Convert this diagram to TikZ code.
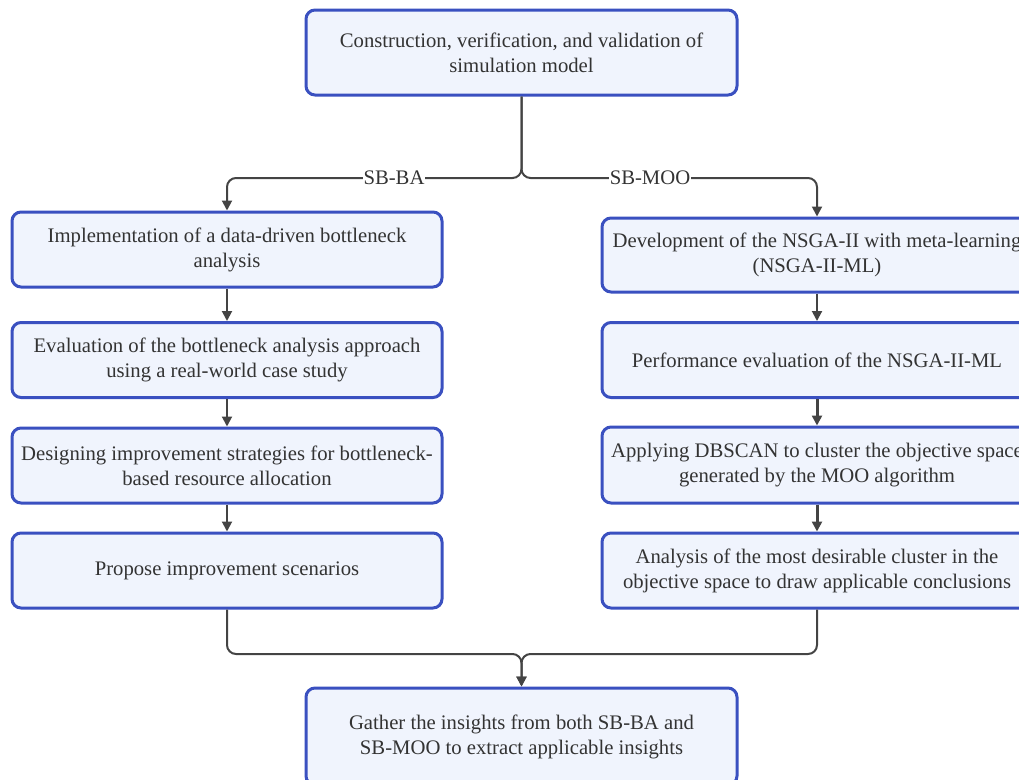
\documentclass[tikz,border=0pt]{standalone}
\usepackage{fontspec}
\setmainfont{Liberation Serif}
\usetikzlibrary{arrows.meta}
\definecolor{boxborder}{RGB}{58,80,192}
\definecolor{boxfill}{RGB}{240,244,253}
\definecolor{linegray}{RGB}{68,68,68}
\definecolor{textgray}{RGB}{51,51,51}
\begin{document}
\begin{tikzpicture}[x=1pt,y=1pt,
  box/.style={draw=boxborder, fill=boxfill, line width=3pt, rounded corners=9pt,
    minimum width=430pt, minimum height=75pt, align=center, inner sep=0pt,
    text=textgray, font=\fontsize{20.7}{25}\selectfont},
  conn/.style={draw=linegray, line width=2pt, rounded corners=9pt,
    -{Triangle[width=10pt,length=10pt]}},
  thickconn/.style={conn, line width=3pt},
  lbl/.style={fill=white, inner sep=1pt, text=textgray, font=\fontsize{20.7}{25}\selectfont}
]
\useasboundingbox (0,0) rectangle (1019,-779);

\node[box, minimum width=431pt, minimum height=85pt] (top) at (521.5,-52.5)
  {Construction, verification, and validation of\\simulation model};

\node[box] (L1) at (227,-249.5) {Implementation of a data-driven bottleneck\\analysis};
\node[box] (L2) at (227,-360) {Evaluation of the bottleneck analysis approach\\using a real-world case study};
\node[box] (L3) at (227,-465.5) {Designing improvement strategies for bottleneck-\\based resource allocation};
\node[box] (L4) at (227,-570.5) {Propose improvement scenarios};

\node[box, minimum height=74pt] (R1) at (817,-255) {Development of the NSGA-II with meta-learning\\(NSGA-II-ML)};
\node[box] (R2) at (817,-360) {Performance evaluation of the NSGA-II-ML};
\node[box, minimum height=76pt] (R3) at (817,-465) {Applying DBSCAN to cluster the objective space\\generated by the MOO algorithm};
\node[box] (R4) at (817,-570.5) {Analysis of the most desirable cluster in the\\objective space to draw applicable conclusions};

\node[box, minimum width=431pt, minimum height=97pt] (bot) at (521.5,-736.5)
  {Gather the insights from both SB-BA and\\SB-MOO to extract applicable insights};

\coordinate (split) at (521.5,-178);
\coordinate (merge) at (521.5,-654);

\draw[conn] (top.south) -- (split) -| (L1.north);
\draw[conn] (top.south) -- (split) -| (R1.north);

\node[lbl] (sbba) at (394,-178) {SB-BA};
\node[lbl] (sbmoo) at (650,-178) {SB-MOO};

\draw[conn] (L1) -- (L2);
\draw[conn] (L2) -- (L3);
\draw[conn] (L3) -- (L4);
\draw[conn] (R1) -- (R2);
\draw[thickconn] (R2) -- (R3);
\draw[thickconn] (R3) -- (R4);

\draw[conn] (L4.south) |- (merge) -- (bot.north);
\draw[conn] (R4.south) |- (merge) -- (bot.north);
\end{tikzpicture}
\end{document}
